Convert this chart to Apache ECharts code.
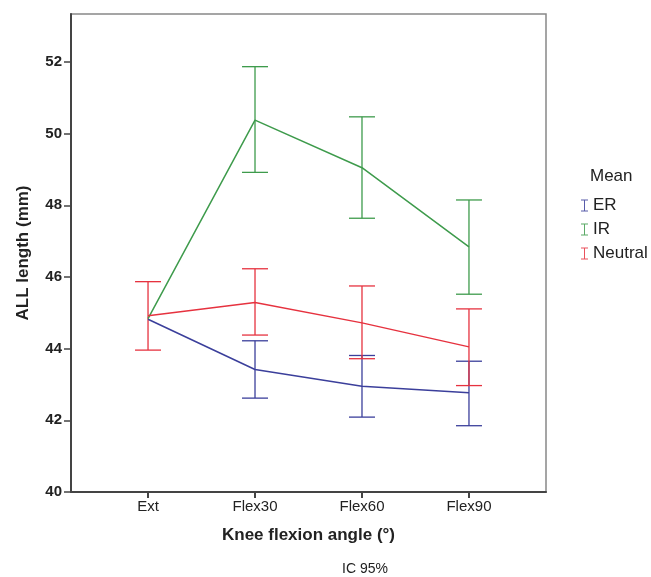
<!DOCTYPE html>
<html>
<head>
<meta charset="utf-8">
<script src="https://cdn.jsdelivr.net/npm/echarts@6/dist/echarts.min.js"></script>
<style>
  html, body { margin: 0; padding: 0; background: #fff; }
  #chart { width: 651px; height: 577px; }
</style>
</head>
<body>
<div id="chart"></div>
<script>
  // categories on the x axis
  var categories = ['Ext', 'Flex30', 'Flex60', 'Flex90'];
  // y tick labels
  var yTicks = [40, 42, 44, 46, 48, 50, 52];

  // means and 95% CI
  var erMean  = [44.82, 43.42, 42.95, 42.77];
  var erLow   = [null, 42.62, 42.09, 41.85];
  var erHigh  = [null, 44.22, 43.81, 43.65];

  var irMean  = [44.84, 50.38, 49.05, 46.84];
  var irLow   = [null, 48.92, 47.64, 45.52];
  var irHigh  = [null, 51.87, 50.47, 48.15];

  var neuMean = [44.92, 45.29, 44.72, 44.05];
  var neuLow  = [43.96, 44.38, 43.72, 42.97];
  var neuHigh = [45.87, 46.23, 45.75, 45.11];

  var font = 'Liberation Sans, Arial, sans-serif';
  var iconI = 'path://M0,0H7V1H4V11H7V12H0V11H3V1H0Z';

  function lineData(means) {
    return means.map(function (v, i) { return [i, v]; });
  }
  function barData(low, high) {
    var out = [];
    for (var i = 0; i < low.length; i++) {
      if (low[i] != null) out.push([i, low[i], high[i]]);
    }
    return out;
  }
  function errorBars(params, api) {
    var x = api.value(0);
    var lo = api.coord([x, api.value(1)]);
    var hi = api.coord([x, api.value(2)]);
    var w = 13;
    var st = { stroke: api.visual('color'), lineWidth: 1.3, fill: null };
    return {
      type: 'group',
      children: [
        { type: 'line', shape: { x1: lo[0], y1: lo[1], x2: hi[0], y2: hi[1] }, style: st },
        { type: 'line', shape: { x1: lo[0] - w, y1: lo[1], x2: lo[0] + w, y2: lo[1] }, style: st },
        { type: 'line', shape: { x1: hi[0] - w, y1: hi[1], x2: hi[0] + w, y2: hi[1] }, style: st }
      ]
    };
  }

  var groups = [
    { name: 'ER', color: '#3b3f9b', mean: erMean, low: erLow, high: erHigh },
    { name: 'IR', color: '#3e9b4c', mean: irMean, low: irLow, high: irHigh },
    { name: 'Neutral', color: '#e6323f', mean: neuMean, low: neuLow, high: neuHigh }
  ];

  var series = [];
  groups.forEach(function (g) {
    series.push({
      name: g.name,
      type: 'custom',
      renderItem: errorBars,
      itemStyle: { color: g.color, opacity: 0.85 },
      data: barData(g.low, g.high),
      z: 2
    });
  });
  groups.forEach(function (g) {
    series.push({
      name: g.name,
      type: 'line',
      symbol: 'none',
      itemStyle: { color: g.color },
      lineStyle: { color: g.color, width: 1.5 },
      data: lineData(g.mean),
      z: 3
    });
  });

  var myChart = echarts.init(document.getElementById('chart'));
  myChart.setOption({
    animation: false,
    backgroundColor: '#fff',
    textStyle: { fontFamily: font },
    title: {
      text: 'Mean',
      left: 585,
      top: 163,
      textStyle: { fontSize: 17, fontWeight: 'normal', color: '#222', fontFamily: font }
    },
    legend: {
      orient: 'vertical',
      left: 576,
      top: 192,
      itemWidth: 7,
      itemHeight: 12,
      itemGap: 7,
      icon: iconI,
      data: ['ER', 'IR', 'Neutral'],
      textStyle: { fontSize: 17, color: '#222', fontFamily: font }
    },
    grid: {
      left: 71, right: 105, top: 14, bottom: 85,
      show: true, borderColor: '#888', borderWidth: 1.5, backgroundColor: '#fff'
    },
    xAxis: {
      type: 'value',
      min: -0.72,
      max: 3.72,
      name: 'Knee flexion angle (°)',
      nameLocation: 'middle',
      nameGap: 35,
      nameTextStyle: { fontSize: 17, fontWeight: 'bold', color: '#222', fontFamily: font },
      splitLine: { show: false },
      axisLine: { onZero: false, lineStyle: { color: '#444', width: 2 } },
      axisTick: { customValues: [0, 1, 2, 3], length: 6, lineStyle: { color: '#444', width: 2 } },
      axisLabel: {
        customValues: [0, 1, 2, 3],
        formatter: function (v) { return categories[Math.round(v)]; },
        fontSize: 15, color: '#222', margin: 7, fontFamily: font
      }
    },
    yAxis: {
      type: 'value',
      min: 40,
      max: 53.34,
      name: 'ALL length (mm)',
      nameLocation: 'middle',
      nameGap: 39,
      nameTextStyle: { fontSize: 17, fontWeight: 'bold', color: '#222', fontFamily: font },
      splitLine: { show: false },
      axisLine: { onZero: false, lineStyle: { color: '#444', width: 2 } },
      axisTick: { customValues: yTicks, length: 7, lineStyle: { color: '#444', width: 1.5 } },
      axisLabel: {
        customValues: yTicks,
        fontSize: 15, fontWeight: 'bold', color: '#222', margin: 9, fontFamily: font
      }
    },
    graphic: [{
      type: 'text',
      left: 342,
      top: 562,
      style: { text: 'IC 95%', fontSize: 14, fill: '#222', fontFamily: font }
    }],
    series: series
  });
</script>
</body>
</html>
